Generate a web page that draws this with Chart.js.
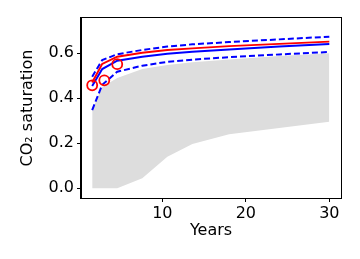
<!DOCTYPE html>
<html>
<head>
<meta charset="utf-8">
<script src="https://cdn.jsdelivr.net/npm/chart.js@4.4.1/dist/chart.umd.min.js"></script>
<style>
  html, body { margin: 0; padding: 0; background: #fff; }
  #wrap { width: 360px; height: 259px; position: relative; }
</style>
</head>
<body>
<div id="wrap"><canvas id="satChart"></canvas></div>
<script>
// years sampled for curves and band
const years = [1.6, 2.8, 4.6, 7.6, 10.6, 13.6, 18, 24, 30];
const meanSim = [0.455, 0.530, 0.567, 0.585, 0.598, 0.607, 0.617, 0.630, 0.641];
const upperSim = [0.496, 0.570, 0.596, 0.615, 0.630, 0.640, 0.650, 0.662, 0.674];
const lowerSim = [0.348, 0.460, 0.518, 0.545, 0.562, 0.572, 0.583, 0.595, 0.606];
const bestFit = [0.470, 0.553, 0.585, 0.603, 0.615, 0.622, 0.632, 0.642, 0.652];
const bandLow = [0, 0, 0, 0.045, 0.140, 0.197, 0.240, 0.268, 0.296];
const bandHigh = [0.348, 0.450, 0.490, 0.530, 0.548, 0.560, 0.573, 0.588, 0.600];
// observations
const obsYears = [1.6, 3.05, 4.6];
const obsSat = [0.458, 0.480, 0.552];
const xTicks = [10, 20, 30];
const yTicks = [0, 0.2, 0.4, 0.6];

const pts = (xs, ys) => xs.map((x, i) => ({ x: x, y: ys[i] }));

const line = (data, color, dashed, order) => ({
  data: pts(years, data),
  borderColor: color,
  borderWidth: 2,
  borderDash: dashed ? [6, 3] : [],
  pointRadius: 0,
  fill: false,
  tension: 0,
  order: order
});

// full box around plot area
const frame = {
  id: 'frame',
  afterDraw(chart) {
    const a = chart.chartArea;
    const c = chart.ctx;
    c.save();
    c.strokeStyle = '#000';
    c.lineWidth = 1;
    c.strokeRect(Math.round(a.left) - 0.5, Math.round(a.top) - 0.5, Math.round(a.right - a.left) + 1, Math.round(a.bottom - a.top) + 1);
    c.restore();
  }
};

const font = { family: 'DejaVu Sans', size: 16 };

new Chart(document.getElementById('satChart'), {
  type: 'line',
  data: {
    datasets: [
      { data: pts(years, bandLow), borderWidth: 0, pointRadius: 0, fill: false, order: 9 },
      { data: pts(years, bandHigh), borderWidth: 0, pointRadius: 0, fill: '-1',
        backgroundColor: 'rgb(221,221,221)', order: 8 },
      line(lowerSim, 'rgb(0,0,255)', true, 4),
      line(upperSim, 'rgb(0,0,255)', true, 3),
      line(meanSim, 'rgb(0,0,255)', false, 2),
      line(bestFit, 'rgb(255,0,0)', false, 1),
      {
        type: 'scatter',
        data: pts(obsYears, obsSat),
        showLine: false,
        pointRadius: 5,
        pointBorderWidth: 1.8,
        pointBorderColor: 'rgb(255,0,0)',
        pointBackgroundColor: 'rgba(0,0,0,0)',
        order: 0
      }
    ]
  },
  options: {
    responsive: true,
    maintainAspectRatio: false,
    animation: false,
    layout: { padding: { left: 18, top: 18, right: 19, bottom: 19 } },
    plugins: { legend: { display: false }, tooltip: { enabled: false } },
    scales: {
      x: {
        type: 'linear',
        min: 0.26,
        max: 31.4,
        afterBuildTicks: s => { s.ticks = xTicks.map(v => ({ value: v })); },
        afterFit: s => { s.height = 42; },
        grid: { drawOnChartArea: false, drawTicks: true, tickLength: 4, color: '#000' },
        border: { display: true, color: '#000', width: 1 },
        ticks: { color: '#000', font: font, padding: 2, maxRotation: 0 },
        title: { display: true, text: 'Years', color: '#000', font: font, padding: { top: 0, bottom: 0 } }
      },
      y: {
        min: -0.043,
        max: 0.757,
        afterBuildTicks: s => { s.ticks = yTicks.map(v => ({ value: v })); },
        afterFit: s => { s.width = 63; },
        grid: { drawOnChartArea: false, drawTicks: true, tickLength: 4, color: '#000' },
        border: { display: true, color: '#000', width: 1 },
        ticks: { color: '#000', font: font, padding: 3, callback: v => v.toFixed(1) },
        title: { display: true, text: 'CO₂ saturation', color: '#000', font: font, padding: { top: 0, bottom: 0 } }
      }
    }
  },
  plugins: [frame]
});
</script>
</body>
</html>
